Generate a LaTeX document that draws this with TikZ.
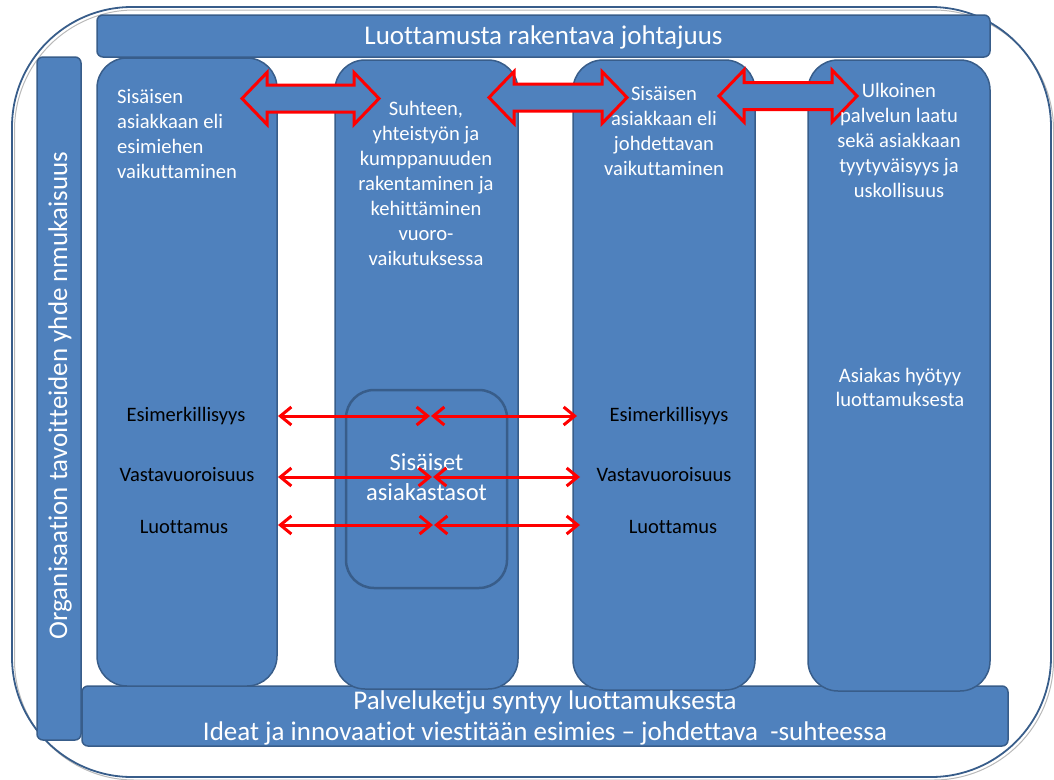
\documentclass[tikz,border=0pt]{standalone}
\usepackage{fontspec}
\setmainfont{Carlito}[Ligatures={NoCommon}]
\usetikzlibrary{arrows.meta}
\definecolor{boxblue}{HTML}{4F81BD}
\definecolor{edgeblue}{HTML}{385D8A}
\definecolor{linkred}{HTML}{FF0000}

% double-headed block arrow: left tip x, right tip x, centre y
\newcommand{\blockarrow}[3]{%
  \draw[blockarr] (#1,#3) -- ({#1+25},{#3-26}) -- ({#1+25},{#3-13.5})
    -- ({#2-25},{#3-13.5}) -- ({#2-25},{#3-26}) -- (#2,#3)
    -- ({#2-25},{#3+26}) -- ({#2-25},{#3+13.5}) -- ({#1+25},{#3+13.5})
    -- ({#1+25},{#3+26}) -- cycle;}

\begin{document}
\begin{tikzpicture}[x=1pt,y=-1pt,
  frame/.style={draw=edgeblue, line width=1.8pt, rounded corners=120pt, inner sep=0pt},
  shadowframe/.style={draw=gray!55, line width=1pt, rounded corners=120pt, inner sep=0pt},
  bar/.style={draw=edgeblue, line width=1.5pt, fill=boxblue, rounded corners=6pt, inner sep=0pt},
  panel/.style={draw=edgeblue, line width=1.5pt, fill=boxblue, rounded corners=30pt, inner sep=0pt},
  innerpanel/.style={draw=edgeblue, line width=2.5pt, fill=boxblue, rounded corners=28pt, inner sep=0pt},
  wtext/.style={text=white, inner sep=0pt, font=\fontsize{20.6}{25}\selectfont},
  btext/.style={text=black, inner sep=0pt, font=\fontsize{20.5}{23}\selectfont},
  blockarr/.style={draw=linkred, line width=3pt, fill=boxblue, line join=miter},
  link/.style={draw=linkred, line width=3pt,
    {Straight Barb[length=11pt,width=18pt]}-{Straight Barb[length=11pt,width=18pt]}}]

\useasboundingbox (0,0) rectangle (1054,779);

% outer frame with its faint inner shadow line
\node[shadowframe, minimum width=1039pt, minimum height=770pt] (shade) at (534,395) {};
\node[frame, minimum width=1039pt, minimum height=770pt] (outer) at (531.5,392) {};

% bars around the columns
\node[bar, minimum width=893pt, minimum height=42pt] (top) at (543.5,36) {};
\node[bar, minimum width=44pt, minimum height=683pt] (side) at (59,398.5) {};
\node[bar, minimum width=926pt, minimum height=60pt] (bottom) at (545,716) {};

% the four columns
\node[panel, minimum width=180pt, minimum height=628pt] (c1) at (187,372) {};
\node[panel, minimum width=183pt, minimum height=629pt] (c2) at (426.5,374.5) {};
\node[panel, minimum width=182pt, minimum height=630pt] (c3) at (664,375) {};
\node[panel, minimum width=182pt, minimum height=631pt] (c4) at (899,375.5) {};

% inner box of the second column
\node[innerpanel, minimum width=161pt, minimum height=198pt] (inner) at (426.5,489) {};

% block arrows between the column headings
\blockarrow{242}{379}{98.5}
\blockarrow{489}{627}{97.5}
\blockarrow{719}{857}{96}

% bar texts
\node[wtext, font=\fontsize{27}{31}\selectfont] (toptext) at (543.5,37) {Luottamusta rakentava johtajuus};
\node[wtext, font=\fontsize{27}{30}\selectfont, rotate=90] (sidetext) at (60,395.5)
  {Organisaation tavoitteiden yhde nmukaisuus};
\node[wtext, font=\fontsize{27}{31}\selectfont, align=center] (bottomtext) at (545,718)
  {Palveluketju syntyy luottamuksesta\\Ideat ja innovaatiot viestitään esimies – johdettava\ \ -suhteessa};

% column headings
\node[wtext, anchor=west, align=left] (h1) at (117,134)
  {Sisäisen\\asiakkaan eli\\esimiehen\\vaikuttaminen};
\node[wtext, align=center] (h2) at (426,183.5)
  {Suhteen,\\yhteistyön ja\\kumppanuuden\\rakentaminen ja\\kehittäminen\\vuoro-\\vaikutuksessa};
\node[wtext, align=center] (h3) at (664,130.5)
  {Sisäisen\\asiakkaan eli\\johdettavan\\vaikuttaminen};
\node[wtext, align=center] (h4) at (899,140.5)
  {Ulkoinen\\palvelun laatu\\sekä asiakkaan\\tyytyväisyys ja\\uskollisuus};
\node[wtext, align=center, font=\fontsize{20.6}{24}\selectfont] (h4b) at (900,387)
  {Asiakas hyötyy\\luottamuksesta};
\node[wtext, align=center, font=\fontsize{24.5}{30}\selectfont] (innertext) at (426.5,477.5)
  {Sisäiset\\asiakastasot};

% qualities named in the first and third column
\node[btext] (e1) at (186,416) {Esimerkillisyys};
\node[btext] (v1) at (187,475) {Vastavuoroisuus};
\node[btext] (l1) at (184,527) {Luottamus};
\node[btext] (e3) at (669,416) {Esimerkillisyys};
\node[btext] (v3) at (664,475) {Vastavuoroisuus};
\node[btext] (l3) at (673,527) {Luottamus};

% end points of the thin links
\coordinate (a1) at (278,416); \coordinate (b1) at (430,416);
\coordinate (b1r) at (431,416); \coordinate (d1) at (577,416);
\coordinate (a2) at (278,477); \coordinate (b2) at (432,477);
\coordinate (b2r) at (433,477); \coordinate (d2) at (580,477);
\coordinate (a3) at (278,525); \coordinate (b3) at (433,525);
\coordinate (b3r) at (434,525); \coordinate (d3) at (580,525);

\draw[link] (a1) -- (b1);
\draw[link] (b1r) -- (d1);
\draw[link] (a2) -- (b2);
\draw[link] (b2r) -- (d2);
\draw[link] (a3) -- (b3);
\draw[link] (b3r) -- (d3);
\end{tikzpicture}
\end{document}
